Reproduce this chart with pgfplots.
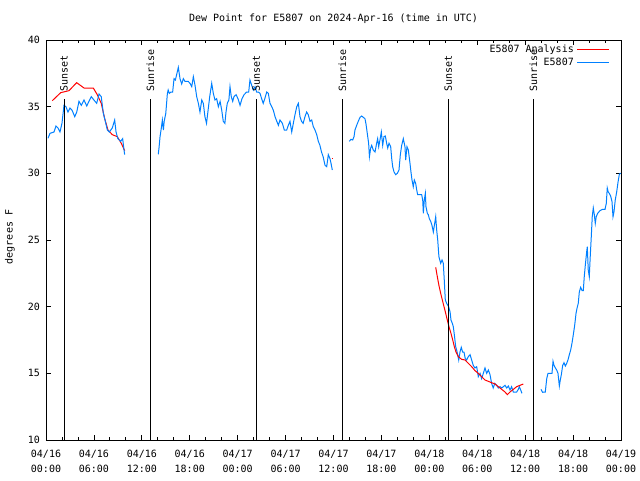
\documentclass[border=0pt]{standalone}
\usepackage{fontspec}
\setmainfont{DejaVu Sans Mono}
\usepackage{pgfplots}
\pgfplotsset{compat=1.18}
\definecolor{dpblue}{RGB}{0,128,255}
\begin{document}
\begin{tikzpicture}
\path[use as bounding box] (-46pt,-40pt) rectangle (594pt,440pt);
\begin{axis}[
  at={(0,0)}, anchor=south west, scale only axis,
  width=575pt, height=400pt,
  xmin=0, xmax=72, ymin=10, ymax=40,
  xtick={0,6,...,72}, minor x tick num=2,
  ytick={10,15,...,40},
  xticklabels={{04/16\\00:00},{04/16\\06:00},{04/16\\12:00},{04/16\\18:00},
    {04/17\\00:00},{04/17\\06:00},{04/17\\12:00},{04/17\\18:00},
    {04/18\\00:00},{04/18\\06:00},{04/18\\12:00},{04/18\\18:00},{04/19\\00:00}},
  xticklabel style={align=center, inner sep=0pt, yshift=-10pt, font=\linespread{1.2}\selectfont},
  yticklabel style={inner sep=0pt, xshift=-6pt},
  /pgf/number format/assume math mode=true,
  major tick length=5pt, minor tick length=3pt,
  tick style={black, line width=0.8pt},
  axis line style={line width=0.8pt},
  ylabel={degrees F},
  every axis y label/.style={at={(-36pt,203pt)}, rotate=90, anchor=center},
  clip=true,
]
% analysis (red)
\addplot[red, line width=1pt] coordinates {
(0.79,35.45)(1.84,36.05)(2.88,36.2)(3.84,36.8)(4.76,36.4)(5.92,36.4)(6.42,35.9)
(6.92,35.25)(7.35,34.1)(7.76,33.25)(8.3,32.9)(8.93,32.75)(9.43,32.25)(9.85,31.7)};
% observations (blue)
\addplot[dpblue, line width=1pt] coordinates {
(0.25,32.63)(0.5,33.0)(1.0,33.1)(1.25,33.55)(1.5,33.4)(1.75,33.1)(2.0,33.75)
(2.25,35.1)(2.5,35.0)(2.75,34.6)(3.0,34.9)(3.25,34.75)(3.6,34.25)(3.85,34.6)
(4.13,35.4)(4.42,35.1)(4.76,35.5)(5.1,35.05)(5.38,35.4)(5.67,35.75)(6.0,35.5)
(6.35,35.25)(6.64,35.95)(6.92,35.75)(7.18,34.5)(7.39,34.0)(7.68,33.25)(7.93,33.1)
(8.3,33.4)(8.6,34.0)(8.77,33.1)(9.0,32.6)(9.35,32.4)(9.6,32.6)(9.77,31.75)(9.85,31.4)};
\addplot[dpblue, line width=1pt] coordinates {
(14.06,31.43)(14.15,31.9)(14.28,32.75)(14.44,33.4)(14.57,34.0)(14.7,33.25)(14.8,33.9)
(15.0,34.5)(15.2,36.0)(15.3,36.25)(15.44,36.0)(15.65,36.1)(15.86,36.1)(16.03,37.1)
(16.2,37.0)(16.36,37.4)(16.57,37.95)(16.78,37.1)(16.99,36.7)(17.2,37.1)(17.4,36.9)
(17.8,36.9)(18.03,36.75)(18.25,36.5)(18.45,37.25)(18.66,36.6)(18.87,35.75)(19.08,35.25)
(19.28,34.6)(19.5,35.5)(19.7,35.25)(19.9,34.25)(20.1,33.75)(20.3,34.75)(20.5,35.75)
(20.75,36.75)(20.95,36.0)(21.16,35.5)(21.37,35.6)(21.58,35.0)(21.8,35.4)(22.0,34.75)
(22.2,33.9)(22.4,33.75)(22.54,34.6)(22.7,35.25)(22.9,35.5)(23.04,36.5)(23.2,35.75)
(23.38,35.4)(23.54,35.75)(23.8,35.9)(24.04,35.6)(24.3,35.1)(24.54,35.6)(24.8,35.9)
(25.13,36.1)(25.38,36.1)(25.54,37.0)(25.76,36.6)(25.96,36.25)(26.17,36.5)(26.38,36.1)
(26.58,36.1)(26.8,36.0)(27.0,35.6)(27.2,35.25)(27.4,35.6)(27.64,36.1)(27.84,36.0)
(28.05,35.25)(28.26,35.0)(28.46,34.75)(28.68,34.25)(28.9,33.9)(29.1,33.6)(29.3,34.0)
(29.6,33.75)(29.84,33.25)(30.14,33.25)(30.34,33.6)(30.55,33.9)(30.77,33.1)(30.97,33.75)
(31.18,34.4)(31.4,35.0)(31.6,35.25)(31.8,34.25)(32.0,33.9)(32.2,33.75)(32.43,34.25)
(32.64,34.6)(32.84,34.4)(33.06,33.9)(33.27,34.0)(33.47,33.5)(33.68,33.25)(33.9,32.9)
(34.1,32.4)(34.3,32.1)(34.5,31.6)(34.7,31.25)(34.94,30.6)(35.15,30.5)(35.35,31.4)
(35.56,31.1)(35.69,30.75)(35.85,30.25)};
\addplot[red, line width=1pt] coordinates {(35.8,31.1)(35.88,31.1)};
\addplot[dpblue, line width=1pt] coordinates {
(37.98,32.4)(38.19,32.55)(38.4,32.5)(38.57,32.75)(38.69,33.25)(38.9,33.6)(39.1,33.9)
(39.32,34.2)(39.53,34.3)(39.73,34.2)(39.94,34.1)(40.07,33.7)(40.23,33.0)(40.4,32.25)
(40.5,31.25)(40.66,31.9)(40.78,32.1)(40.98,31.75)(41.2,31.6)(41.4,32.25)(41.53,32.6)
(41.66,32.0)(41.82,32.5)(41.99,33.1)(42.16,32.1)(42.32,32.75)(42.49,32.8)(42.66,32.25)
(42.79,31.9)(42.95,32.25)(43.16,32.0)(43.29,31.1)(43.41,30.5)(43.58,30.1)(43.79,29.9)
(43.99,30.0)(44.2,30.25)(44.37,31.4)(44.54,32.1)(44.74,32.6)(44.95,32.0)(45.04,31.0)
(45.2,32.0)(45.37,31.75)(45.58,30.75)(45.7,30.1)(45.83,29.5)(45.99,29.0)(46.12,29.5)
(46.29,29.25)(46.42,28.75)(46.54,28.4)(47.04,28.4)(47.17,28.0)(47.25,27.0)(47.37,28.0)
(47.5,28.5)(47.58,27.5)(47.75,27.0)(47.87,26.9)(48.0,26.6)(48.17,26.4)(48.33,26.1)
(48.5,25.6)(48.67,26.25)(48.8,26.75)(48.92,25.75)(49.05,25.0)(49.2,23.75)(49.42,23.25)
(49.59,23.5)(49.75,23.25)(49.87,22.0)(50.0,20.5)(50.17,20.25)(50.42,20.0)(50.6,19.6)
(50.71,19.0)(50.88,18.75)(51.0,18.5)(51.13,17.9)(51.3,17.0)(51.42,16.75)(51.55,16.4)
(51.68,16.0)(51.84,16.6)(52.0,16.95)(52.17,16.6)(52.34,16.6)(52.5,16.1)(52.67,16.0)
(52.88,16.25)(53.1,16.4)(53.3,16.0)(53.5,15.6)(53.7,15.4)(53.93,15.5)(54.13,14.75)
(54.35,15.0)(54.55,14.6)(54.76,15.0)(54.97,15.4)(55.18,15.0)(55.39,15.25)(55.6,14.9)
(55.8,14.25)(56.0,13.9)(56.2,14.25)(56.43,14.1)(56.64,13.9)(56.85,14.0)(57.06,13.9)
(57.27,14.0)(57.48,14.1)(57.69,13.9)(57.9,14.05)(58.1,13.75)(58.3,14.0)(58.52,13.6)
(58.73,13.6)(58.94,13.6)(59.14,13.8)(59.27,14.0)(59.44,13.75)(59.6,13.5)};
\addplot[red, line width=1pt] coordinates {
(48.8,22.95)(49.0,22.25)(49.2,21.6)(49.42,21.0)(49.63,20.5)(49.84,20.0)(50.05,19.5)
(50.25,19.0)(50.46,18.5)(50.71,18.0)(50.93,17.5)(51.13,17.0)(51.34,16.6)(51.63,16.25)
(52.05,16.05)(52.47,16.0)(52.88,15.75)(53.3,15.5)(53.72,15.2)(54.13,15.0)(54.55,14.75)
(54.97,14.5)(55.39,14.4)(55.8,14.3)(56.22,14.2)(56.64,14.0)(57.06,13.8)(57.48,13.6)
(57.77,13.4)(58.1,13.6)(58.52,13.8)(58.94,14.0)(59.35,14.1)(59.77,14.2)};
\addplot[dpblue, line width=1pt] coordinates {
(61.98,13.8)(62.19,13.57)(62.36,13.6)(62.52,13.6)(62.7,14.6)(62.86,15.0)(63.2,15.0)
(63.36,15.0)(63.49,15.9)(63.61,15.6)(63.78,15.4)(63.95,15.25)(64.11,15.0)(64.28,14.05)
(64.4,14.5)(64.53,14.9)(64.7,15.6)(64.86,15.8)(65.03,15.55)(65.2,15.75)(65.36,16.0)
(65.53,16.4)(65.7,16.75)(65.86,17.25)(66.03,17.9)(66.2,18.6)(66.37,19.5)(66.5,19.9)
(66.65,20.25)(66.78,21.1)(66.95,21.45)(67.13,21.2)(67.28,21.2)(67.4,22.25)(67.53,23.1)
(67.7,24.1)(67.78,24.5)(67.9,22.75)(68.03,22.25)(68.16,23.9)(68.28,25.25)(68.4,26.75)
(68.53,27.4)(68.66,26.9)(68.78,26.25)(68.9,26.75)(69.08,27.0)(69.37,27.2)(69.7,27.3)
(70.0,27.3)(70.16,27.75)(70.28,28.9)(70.4,28.6)(70.53,28.5)(70.7,28.3)(70.87,27.9)
(71.0,26.75)(71.12,27.1)(71.28,28.0)(71.46,28.6)(71.62,29.3)(71.8,29.95)(71.96,30.0)};
% sunrise / sunset markers
\addplot[black, line width=0.8pt] coordinates {(2.25,10)(2.25,35.55)};
\addplot[black, line width=0.8pt] coordinates {(13.06,10)(13.06,35.55)};
\addplot[black, line width=0.8pt] coordinates {(26.33,10)(26.33,35.55)};
\addplot[black, line width=0.8pt] coordinates {(37.1,10)(37.1,35.55)};
\addplot[black, line width=0.8pt] coordinates {(50.38,10)(50.38,35.55)};
\addplot[black, line width=0.8pt] coordinates {(61.02,10)(61.02,35.55)};
\node[rotate=90, anchor=west, inner sep=0pt] at (axis cs:2.25,36.1) {Sunset};
\node[rotate=90, anchor=west, inner sep=0pt] at (axis cs:13.06,36.1) {Sunrise};
\node[rotate=90, anchor=west, inner sep=0pt] at (axis cs:26.33,36.1) {Sunset};
\node[rotate=90, anchor=west, inner sep=0pt] at (axis cs:37.1,36.1) {Sunrise};
\node[rotate=90, anchor=west, inner sep=0pt] at (axis cs:50.38,36.1) {Sunset};
\node[rotate=90, anchor=west, inner sep=0pt] at (axis cs:61.02,36.1) {Sunrise};
\end{axis}
% legend
\node[anchor=east, inner sep=0pt] at (528pt,390.5pt) {E5807 Analysis};
\draw[red, line width=1pt] (531pt,390.5pt) -- (563pt,390.5pt);
\node[anchor=east, inner sep=0pt] at (528pt,377.7pt) {E5807};
\draw[dpblue, line width=1pt] (531pt,377.7pt) -- (563pt,377.7pt);
% title
\node at (287.5pt,421pt) {Dew Point for E5807 on 2024-Apr-16 (time in UTC)};
\end{tikzpicture}
\end{document}
